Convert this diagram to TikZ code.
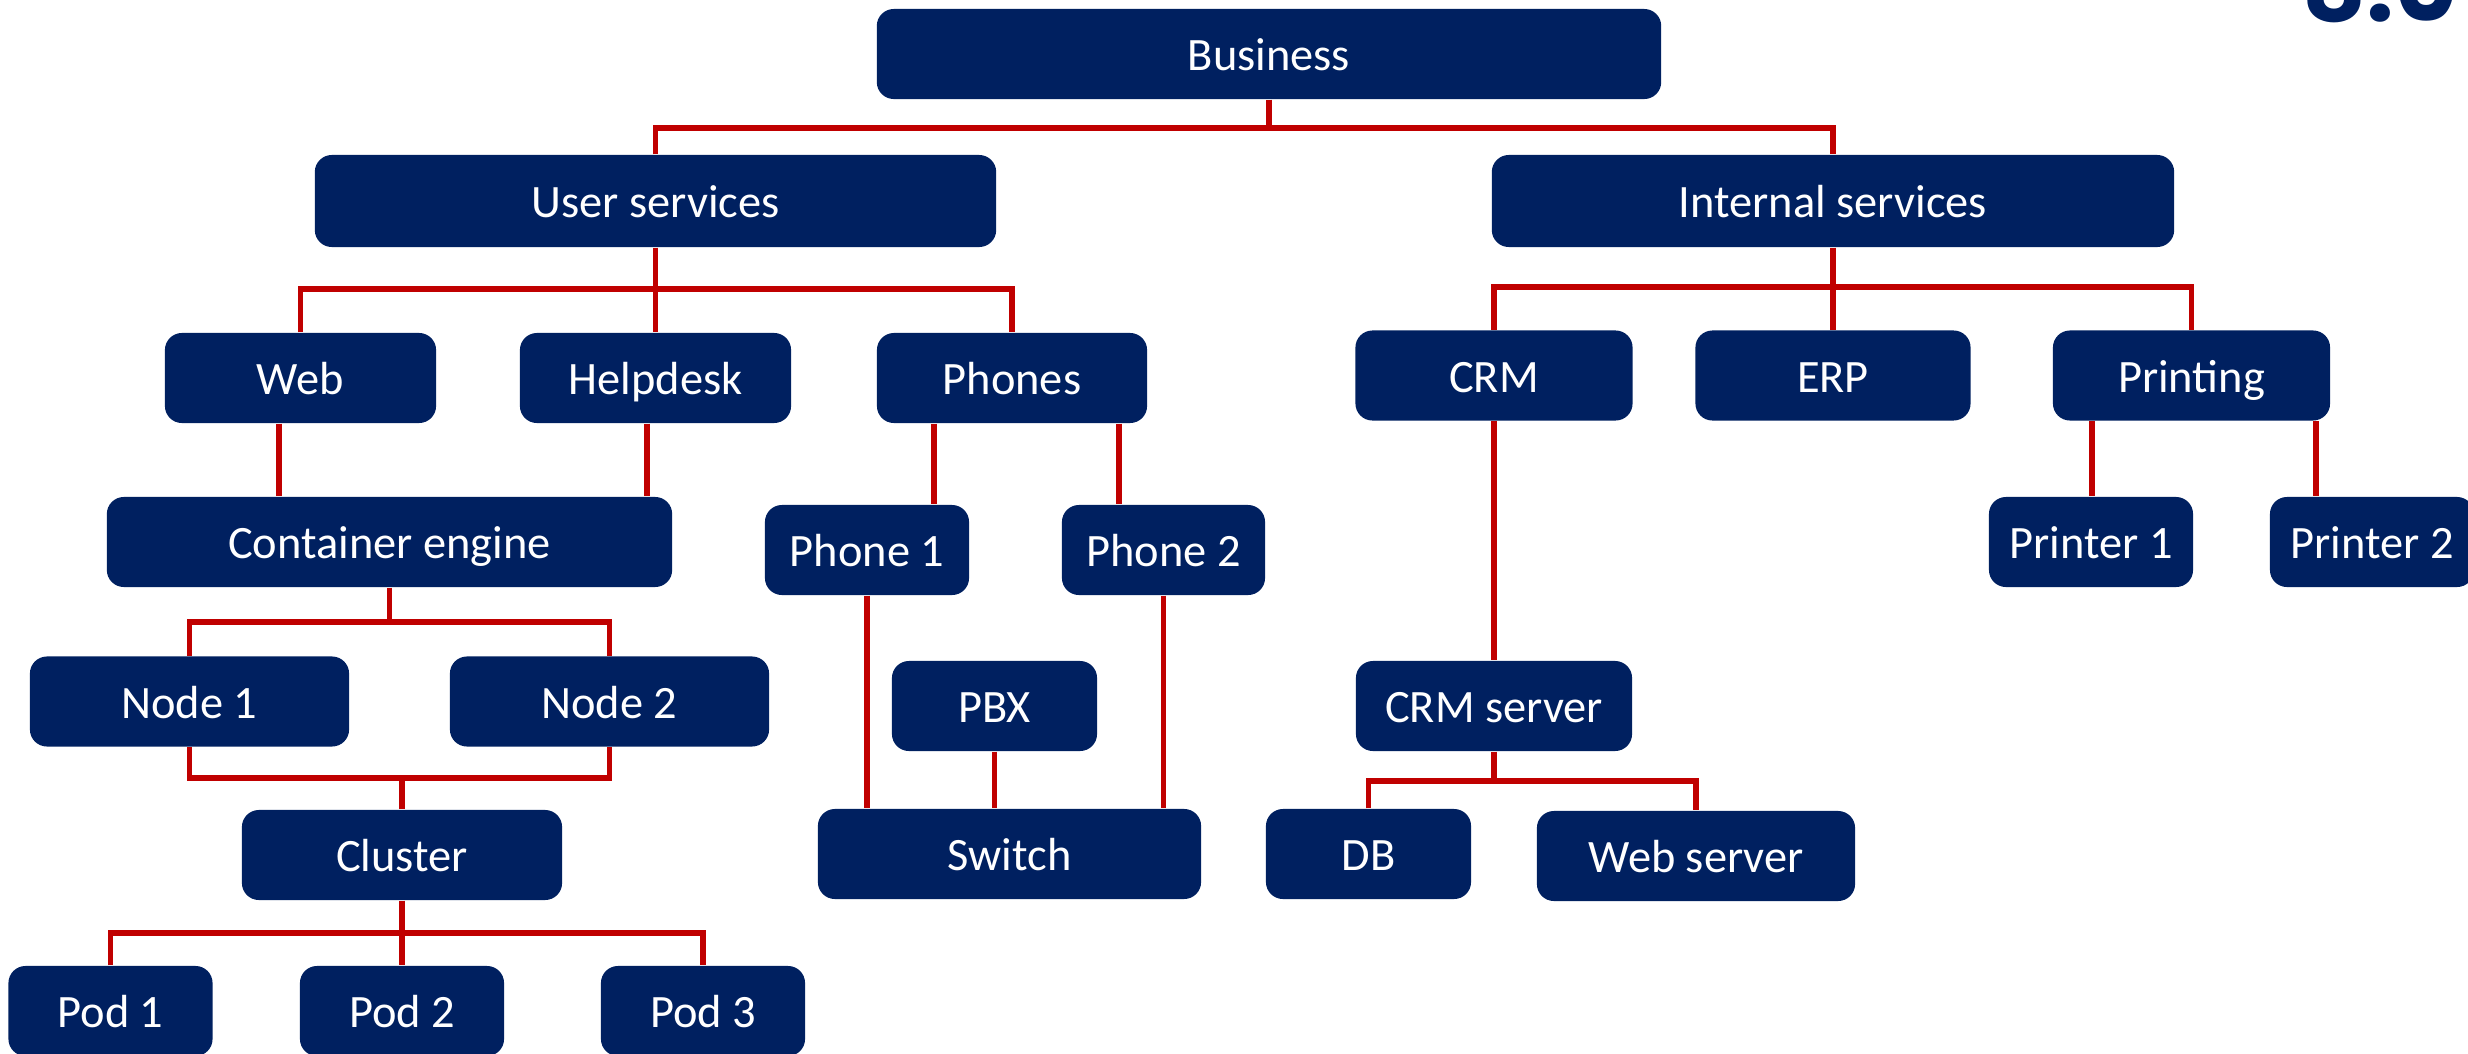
\documentclass[tikz,border=0pt]{standalone}
\usepackage{fontspec}
\setmainfont{Carlito}
\newfontfamily\logofont{Poppins}
\usepackage{tikz}
\definecolor{navy}{HTML}{002060}
\definecolor{linkred}{HTML}{C00000}
\tikzstyle{box}=[rectangle, rounded corners=1.7mm, fill=navy, text=white, minimum height=9mm, text height=9.6pt, text depth=0pt, font=\fontsize{13.2}{15}\selectfont]
\tikzstyle{link}=[draw=linkred, line width=1.5pt]
\pgfdeclarelayer{bg}
\pgfsetlayers{bg,main}

\begin{document}
\begin{tikzpicture}[x=0.01cm, y=-0.01cm]
    \useasboundingbox (0,0) rectangle (2468,1054);
    \node[anchor=base west, inner sep=0, text=navy, font=\logofont\bfseries\fontsize{28}{30}\selectfont] (logo) at (2302,21) {8.0};

    \node[box, minimum width=7.84cm] (business) at (1269,54) {Business};
    \node[box, minimum width=6.81cm, minimum height=9.2mm] (user) at (655.5,201) {User services};
    \node[box, minimum width=6.82cm, minimum height=9.2mm] (internal) at (1833,201) {Internal services};

    \node[box, minimum width=2.71cm] (web) at (300.5,378) {Web};
    \node[box, minimum width=2.71cm] (helpdesk) at (655.5,378) {Helpdesk};
    \node[box, minimum width=2.70cm] (phones) at (1012,378) {Phones};
    \node[box, minimum width=2.77cm] (crm) at (1494,375.5) {CRM};
    \node[box, minimum width=2.75cm] (erp) at (1833,375.5) {ERP};
    \node[box, minimum width=2.77cm] (printing) at (2191.5,375.5) {Printing};

    \node[box, minimum width=5.65cm] (container) at (389.5,542) {Container engine};
    \node[box, minimum width=2.04cm] (phone1) at (867,550) {Phone 1};
    \node[box, minimum width=2.03cm] (phone2) at (1163.5,550) {Phone 2};
    \foreach \n/\x in {1/2091, 2/2372}
      \node[box, minimum width=2.04cm] (printer\n) at (\x,542) {Printer \n};

    \foreach \n/\x in {1/189.5, 2/609.5}
      \node[box, minimum width=3.19cm] (node\n) at (\x,701.5) {Node \n};
    \node[box, minimum width=2.05cm] (pbx) at (994.5,706) {PBX};
    \node[box, minimum width=2.76cm] (crmserver) at (1494,706) {CRM server};

    \node[box, minimum width=3.20cm] (cluster) at (402,855) {Cluster};
    \node[box, minimum width=3.83cm] (switch) at (1009.5,854) {Switch};
    \node[box, minimum width=2.05cm] (db) at (1368.5,854) {DB};
    \node[box, minimum width=3.18cm] (webserver) at (1696,856) {Web server};

    \foreach \n/\x in {1/110.5, 2/402, 3/703}
      \node[box, minimum width=2.04cm] (pod\n) at (\x,1011) {Pod \n};

    \begin{pgfonlayer}{bg}
      \coordinate (busbar) at (1269,128);
      \draw[link] (business.south) -- (busbar);
      \draw[link] (user.north) |- (busbar) -| (internal.north);

      \coordinate (ubar) at (655.5,289);
      \draw[link] (user.south) -- (helpdesk.north);
      \draw[link] (web.north) |- (ubar) -| (phones.north);

      \coordinate (ibar) at (1833,287);
      \draw[link] (internal.south) -- (erp.north);
      \draw[link] (crm.north) |- (ibar) -| (printing.north);

      \draw[link] (279,0 |- web.south) -- (279,0 |- container.north);
      \draw[link] (647,0 |- helpdesk.south) -- (647,0 |- container.north);
      \draw[link] (934,0 |- phones.south) -- (934,0 |- phone1.north);
      \draw[link] (1119,0 |- phones.south) -- (1119,0 |- phone2.north);

      \coordinate (cbar) at (389.5,622);
      \draw[link] (container.south) -- (cbar);
      \draw[link] (node1.north) |- (cbar) -| (node2.north);

      \coordinate (nbar) at (402,778);
      \draw[link] (node1.south) |- (nbar) -| (node2.south);
      \draw[link] (nbar) -- (cluster.north);

      \coordinate (pbar) at (402,933);
      \draw[link] (cluster.south) -- (pod2.north);
      \draw[link] (pod1.north) |- (pbar) -| (pod3.north);

      \draw[link] (phone1.south) -- (phone1.south |- switch.north);
      \draw[link] (pbx.south) -- (pbx.south |- switch.north);
      \draw[link] (phone2.south) -- (phone2.south |- switch.north);

      \draw[link] (crm.south) -- (crmserver.north);
      \coordinate (sbar) at (1494,781);
      \draw[link] (crmserver.south) -- (sbar);
      \draw[link] (db.north) |- (sbar) -| (webserver.north);

      \draw[link] (2092,0 |- printing.south) -- (2092,0 |- printer1.north);
      \draw[link] (2316,0 |- printing.south) -- (2316,0 |- printer2.north);
    \end{pgfonlayer}
\end{tikzpicture}
\end{document}
